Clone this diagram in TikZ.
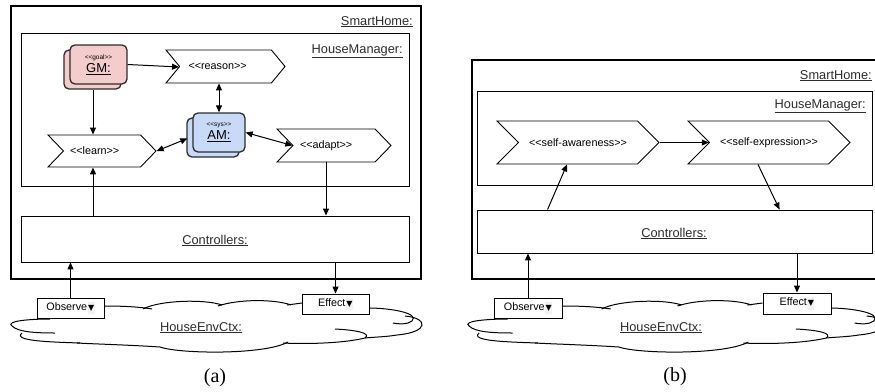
\documentclass[tikz,border=0pt]{standalone}
\usepackage{fontspec}
\setmainfont{Liberation Sans}
\newfontfamily\capfont{Liberation Serif}
\newfontfamily\symfont{DejaVu Sans}
\usepackage{tikz}
\usetikzlibrary{arrows.meta,positioning,calc,shapes.symbols,shadows}
\definecolor{gmpink}{RGB}{244,204,204}
\definecolor{amblue}{RGB}{201,218,248}
\definecolor{inkgray}{RGB}{45,45,45}
\newcommand{\stype}[1]{<\kern0pt<#1>\kern0pt>}
\newcommand{\tri}{\kern0.5pt\colorbox{gray!10}{\kern-2.6pt\symfont\fontsize{8}{8}\selectfont ▼\kern-2.6pt}}
% wolke der umgebung (lokale koordinaten des linken bildes)
\newcommand{\envcloud}{%
  \draw[cloudline] (104,306) .. controls (125,306) and (140,307) .. (152,309);
  \draw[cloudline] (143,309) .. controls (160,300) and (205,299) .. (222,305);
  \draw[cloudline] (218,306) .. controls (238,299) and (275,299) .. (291,305);
  \draw[cloudline] (287,305) -- (302,303);
  \draw[cloudline] (368,308) .. controls (390,308) and (420,313) .. (412,321)
    .. controls (407,325) and (398,324) .. (393,323);
  \draw[cloudline] (405,316) .. controls (428,318) and (430,332) .. (397,335)
    .. controls (385,337) and (374,337) .. (365,338);
  \draw[cloudline] (335,329) .. controls (355,330) and (372,333) .. (365,338)
    .. controls (340,344) and (300,344) .. (283,343);
  \draw[cloudline] (288,342) .. controls (265,355) and (180,354) .. (160,347)
    .. controls (130,345) and (95,344) .. (77,343);
  \draw[cloudline] (80,343) .. controls (50,342) and (12,341) .. (22,333);
  \draw[cloudline] (50,319) .. controls (30,319) and (5,321) .. (12,326)
    .. controls (18,332) and (35,333) .. (55,333);
}

\begin{document}
\begin{tikzpicture}[x=1pt,y=-1pt,>={Triangle[length=7pt,width=6pt]},
  box/.style={draw=black,line width=0.9pt,fill=white,inner sep=0pt},
  homebox/.style={draw=black,line width=2.6pt,inner sep=0pt},
  objname/.style={font=\fontsize{12.8}{15}\selectfont,text=inkgray,inner sep=0pt},
  chev/.style={draw=black,line width=0.9pt,fill=white,shape=signal,signal from=west,
    signal to=east,signal pointer angle=92,inner sep=0pt,font=\fontsize{10.8}{13}\selectfont},
  agent/.style={draw=inkgray,line width=1.3pt,rounded corners=5pt,inner sep=0pt,align=center},
  io/.style={box,font=\fontsize{10.8}{13}\selectfont},
  link/.style={->,line width=1pt},
  twoway/.style={<->,line width=1pt},
  cloudline/.style={line width=1pt},
  caption/.style={font=\capfont\fontsize{20}{22}\selectfont}]
  \useasboundingbox (0,0) rectangle (875,391);
  \clip (0,0) rectangle (875,391);

  % ---------------- (a) ----------------
  \node[homebox,minimum width=410pt,minimum height=273pt] (homeA) at (216,142.5) {};
  \node[objname,anchor=base east] (homeAname) at (413,25) {\underline{SmartHome:}};
  \node[box,minimum width=388pt,minimum height=153pt] (mgrA) at (215,109.5) {};
  \node[objname,anchor=base east] (mgrAname) at (403,53) {\underline{HouseManager:}};
  \node[box,minimum width=388pt,minimum height=46pt] (ctrlA) at (215,239) {};
  \node[objname,anchor=base] (ctrlAname) at (215,244) {\underline{Controllers:}};
  % prozesse
  \node[chev,signal pointer angle=101,minimum width=119pt,minimum height=33pt,
    text width=74pt,align=left] (reasonA) at (225.5,66.5) {\stype{reason}};
  \node[chev,minimum width=108pt,minimum height=32pt,
    text width=64pt,align=left] (learnA) at (102,151) {\stype{learn}};
  \node[chev,minimum width=114pt,minimum height=33pt,
    text width=68pt,align=left] (adaptA) at (334,145.5) {\stype{adapt}};
  % agenten
  \node[agent,fill=gmpink,minimum width=57pt,minimum height=39pt,
    copy shadow={fill=gmpink,draw=inkgray,line width=1.3pt,shadow xshift=-6pt,shadow yshift=-5pt}]
    (gmA) at (98.5,64.5)
    {{\fontsize{6.5}{7}\selectfont\stype{goal}}\\[1pt]{\fontsize{13}{14}\selectfont\underline{GM:}}};
  \node[agent,fill=amblue,minimum width=52pt,minimum height=39pt,
    copy shadow={fill=amblue,draw=inkgray,line width=1.3pt,shadow xshift=-6pt,shadow yshift=-5pt}]
    (amA) at (219,132.5)
    {{\fontsize{6.5}{7}\selectfont\stype{sys}}\\[1pt]{\fontsize{13}{14}\selectfont\underline{AM:}}};
  % pfeile
  \coordinate (gmfoot) at ($(gmA.south)+(-5.5,5)$);
  \coordinate (lrnfoot) at ($(learnA.south)+(-9,0)$);
  \coordinate (adpfoot) at ($(adaptA.south)+(-8,0)$);
  \draw[link] (gmA.east) -- ($(reasonA.west)+(0,0.5)$);
  \draw[twoway] (amA.north) -- (amA.north |- reasonA.south);
  \draw[link] (gmfoot) -- (gmfoot |- learnA.north);
  \draw[twoway] (learnA.east) -- ($(amA.west)+(-5,6)$);
  \draw[twoway] (amA.east) -- (adaptA.west);
  \draw[link] (ctrlA.north -| lrnfoot) -- (lrnfoot);
  \draw[link] (adpfoot) -- (adpfoot |- ctrlA.north);
  % umgebung
  \envcloud
  \node[objname,anchor=base] (envAname) at (201,331) {\underline{HouseEnvCtx:}};
  \node[io,minimum width=67pt,minimum height=20pt] (obsA) at (70.5,308) {Observe\tri};
  \node[io,minimum width=67pt,minimum height=20pt] (effA) at (335.5,304) {Effect\tri};
  \draw[link] (obsA.north) -- (obsA.north |- ctrlA.south);
  \draw[link] (ctrlA.south -| effA.north) -- (effA.north);
  \node[caption] (capA) at (215,378) {(a)};

  % ---------------- (b) ----------------
  \node[homebox,minimum width=408pt,minimum height=219pt] (homeB) at (676,169.5) {};
  \node[objname,anchor=base east] (homeBname) at (872,79) {\underline{SmartHome:}};
  \node[box,minimum width=395pt,minimum height=94pt] (mgrB) at (674.5,138) {};
  \node[objname,anchor=base east] (mgrBname) at (866,108) {\underline{HouseManager:}};
  \node[box,minimum width=395pt,minimum height=43pt] (ctrlB) at (674.5,231.5) {};
  \node[objname,anchor=base] (ctrlBname) at (674,237) {\underline{Controllers:}};
  \node[chev,signal pointer angle=90,minimum width=162pt,minimum height=43pt]
    (awareB) at (578,142.5) {\stype{self-awareness}};
  \node[chev,signal pointer angle=90,minimum width=162pt,minimum height=43pt]
    (exprB) at (769,142.5) {\stype{self-expression}};
  \draw[link] (awareB.east) -- (exprB.west);
  \draw[link] ($(ctrlB.north west)+(71,0)$) -- ($(awareB.south)+(-11,0)$);
  \draw[link] ($(exprB.south)+(-11,0)$) -- ($(ctrlB.north west)+(303,0)$);
  % umgebung
  \begin{scope}[xshift=456.9pt,xscale=1.012]
    \envcloud
  \end{scope}
  \node[objname,anchor=base] (envBname) at (661,331) {\underline{HouseEnvCtx:}};
  \node[io,minimum width=68pt,minimum height=20pt] (obsB) at (528,308) {Observe\tri};
  \node[io,minimum width=68pt,minimum height=21pt] (effB) at (797,303.5) {Effect\tri};
  \draw[link] (obsB.north) -- (obsB.north |- ctrlB.south);
  \draw[link] (ctrlB.south -| effB.north) -- (effB.north);
  \node[caption] (capB) at (675,377) {(b)};
\end{tikzpicture}
\end{document}
